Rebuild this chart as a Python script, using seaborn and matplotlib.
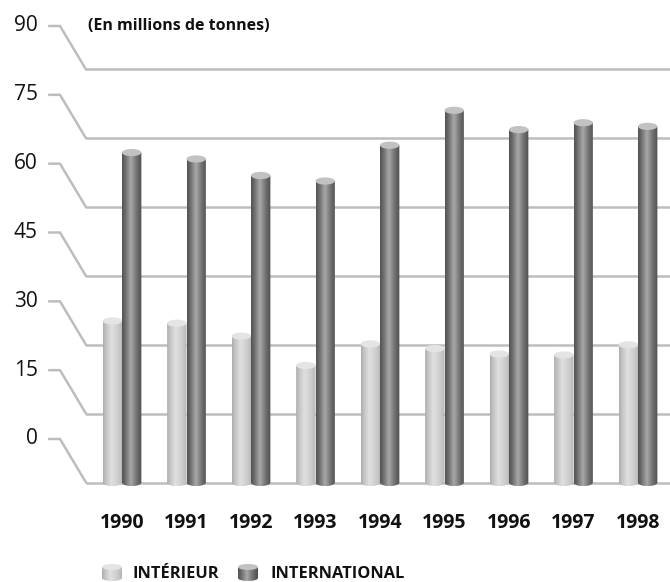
import numpy as np
import pandas as pd
import matplotlib
matplotlib.use("Agg")
import matplotlib.pyplot as plt
import seaborn as sns
from matplotlib.path import Path
from matplotlib.patches import PathPatch, Ellipse

# Freight volumes, millions of tonnes
years = ["1990", "1991", "1992", "1993", "1994", "1995", "1996", "1997", "1998"]
interieur = [35.2, 34.7, 31.9, 25.5, 30.2, 29.2, 28.0, 27.8, 30.0]
international = [71.9, 70.5, 66.9, 65.7, 73.5, 81.1, 76.9, 78.4, 77.6]
series = ["INTÉRIEUR", "INTERNATIONAL"]
ticks = [0, 15, 30, 45, 60, 75, 90]
unit_note = "(En millions de tonnes)"

sns.set_theme(style="white")
plt.rcParams["font.family"] = ["Open Sans", "DejaVu Sans"]

W, H = 670, 582
fig = plt.figure(figsize=(W / 100, H / 100), dpi=100)

# plot area in pixels (x from the left, y from the top)
px_left, px_right = 86, 670
zero_px, px_per_unit = 482.5, 4.589
ylo, yhi = -6, 92
top_px = zero_px - yhi * px_per_unit
bot_px = zero_px - ylo * px_per_unit
ax = fig.add_axes([px_left / W, (H - bot_px) / H,
                   (px_right - px_left) / W, (bot_px - top_px) / H])

grid_color = "#bdbdbd"
light_base, dark_base = "#cfcfcf", "#7a7a7a"

# shading profiles across a cylinder (position, grey level)
light_shade = ([0, 0.12, 0.42, 0.78, 1], [172, 192, 224, 204, 182])
dark_shade = ([0, 0.18, 0.45, 0.75, 1], [82, 112, 168, 112, 78])
light_cap, dark_cap = "#e4e4e4", "#c2c2c2"


def shade_row(profile, n=64):
    pos, lev = profile
    g = np.interp(np.linspace(0, 1, n), pos, lev) / 255.0
    return np.dstack([g, g, g])


def cylinder(axis, x0, w, ybase, ytop, profile, cap, ce, z):
    x1 = x0 + w
    xc = x0 + w / 2
    t = np.linspace(np.pi, 2 * np.pi, 40)
    verts = ([(x0, ytop), (x0, ybase)]
             + list(zip(xc + w / 2 * np.cos(t), ybase + ce * np.sin(t)))
             + [(x1, ytop), (x0, ytop)])
    codes = [Path.MOVETO] + [Path.LINETO] * (len(verts) - 2) + [Path.CLOSEPOLY]
    clip = PathPatch(Path(verts, codes), transform=axis.transData,
                     facecolor="none", edgecolor="none")
    axis.add_patch(clip)
    im = axis.imshow(shade_row(profile), extent=(x0, x1, ybase - ce, ytop),
                     aspect="auto", interpolation="bilinear", zorder=z)
    im.set_clip_path(clip)
    axis.add_patch(Ellipse((xc, ytop), w, 2 * ce, facecolor=cap,
                           edgecolor="none", zorder=z + 0.01))


df = pd.DataFrame({
    "annee": years * 2,
    "valeur": interieur + international,
    "serie": [series[0]] * len(years) + [series[1]] * len(years),
})

# value gridlines
for v in ticks:
    ax.axhline(v, color=grid_color, lw=1.8, zorder=0)

sns.barplot(data=df, x="annee", y="valeur", hue="serie",
            palette=[light_base, dark_base], width=0.6, gap=0,
            errorbar=None, legend=False, ax=ax, zorder=2, linewidth=0)

bars = list(ax.patches)
cap_half = 3.6 / px_per_unit
for p in bars:
    is_dark = np.allclose(p.get_facecolor()[:3], matplotlib.colors.to_rgb(dark_base), atol=0.02)
    p.set_facecolor("none")
    prof = dark_shade if is_dark else light_shade
    cap = dark_cap if is_dark else light_cap
    z = 3 if is_dark else 2.5
    cylinder(ax, p.get_x(), p.get_width(), 0, p.get_height(), prof, cap, cap_half, z)

ax.set_xlim((px_left - 122) / 64.5, (px_right - 122) / 64.5)
ax.set_ylim(ylo, yhi)
ax.set_yticks([])
ax.set_xticks(range(len(years)))
ax.set_xticklabels(years, fontweight="bold", fontsize=14, color="#111111")
ax.tick_params(axis="x", length=0, pad=2)
ax.set_xlabel("")
ax.set_ylabel("")
for s in ax.spines.values():
    s.set_visible(False)
ax.set_facecolor("none")

# overlay in pixel units for the slanted axis and the legend
ov = fig.add_axes([0, 0, 1, 1])
ov.set_xlim(0, W)
ov.set_ylim(0, H)
ov.axis("off")
ov.patch.set_alpha(0)

fig.canvas.draw()
for v in ticks:
    gy = ax.transData.transform((0, v))[1]
    ov.plot([49, 60, px_left], [gy + 43.5, gy + 43.5, gy], color=grid_color,
            lw=1.8, solid_joinstyle="miter", zorder=1)
    ov.text(38, gy + 43.5, str(v), ha="right", va="center", fontsize=15,
            color="#111111")

ov.text(88, H - 26, unit_note, ha="left", va="center", fontsize=11.5,
        fontweight="bold", color="#111111")

# legend
cylinder(ov, 102, 20, H - 578, H - 567, light_shade, light_cap, 3, 2)
ov.text(133, H - 574, series[0], ha="left", va="center", fontsize=11.8,
        fontweight="bold", color="#111111")
cylinder(ov, 238, 20, H - 578, H - 567, dark_shade, dark_cap, 3, 2)
ov.text(271, H - 574, series[1], ha="left", va="center", fontsize=11.8,
        fontweight="bold", color="#111111")
ov.set_xlim(0, W)
ov.set_ylim(0, H)

fig.savefig("out.png", dpi=100)
